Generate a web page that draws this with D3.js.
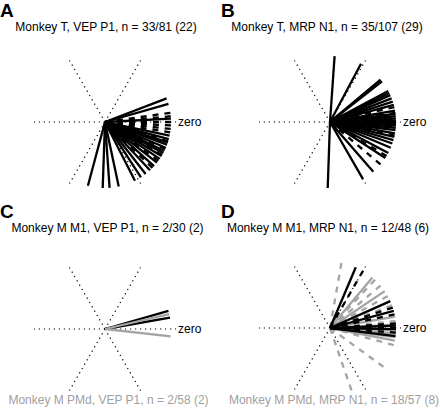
<!DOCTYPE html>
<html><head><meta charset="utf-8">
<script src="https://cdn.jsdelivr.net/npm/d3@7"></script>
<style>body{margin:0;background:#fff}svg{display:block;font-family:"Liberation Sans",Arial,sans-serif}</style>
</head><body><svg id="c" width="440" height="412"></svg>
<script>
// Angles in degrees (0 = "zero", counter-clockwise positive)
const letters = ["A", "B", "C", "D"];
const titles = [
  "Monkey T, VEP P1, n = 33/81 (22)",
  "Monkey T, MRP N1, n = 35/107 (29)",
  "Monkey M M1, VEP P1, n = 2/30 (2)",
  "Monkey M M1, MRP N1, n = 12/48 (6)"
];
const grayTitles = [null, null, "Monkey M PMd, VEP P1, n = 2/58 (2)", "Monkey M PMd, MRP N1, n = 18/57 (8)"];
const spokes = [0, 60, 120, 180, 240, 300];

const aSolid = [21, 16, 3, -12, -15, -18, -20, -23, -26, -28, -31, -34, -38, -42, -47, -52, -57, -63, -78, -86, -92, -105];
const aDashed = [8, 5, 0, -3, -6, -9, -17, -24, -30, -36, -44];
const bSolid = [86, 62, 40, 38, 28, 26, 24, 21, 18, 15, 10, 7, 5, 3, 1, -1, -3, -5, -7, -10, -13, -16, -19, -23, -28, -33, -49, -60, -92];
const bDashed = [13, 8, -2, -12, -31, -40];
const cBlackSolid = [16, 10];
const cBlackDashed = [];
const cGraySolid = [13, -6.5];
const cGrayDashed = [];
const dBlackSolid = [67, 24, 15, 2, -1, -7];
const dBlackDashed = [60, 18, 12, 4, 0, -4];
const dGraySolid = [50, 34, 10, 3, -2, -5, -8, -11];
const dGrayDashed = [80, 47, 40, 29, 20, 6, -4, -15, -36, -71];

const BLACK = "#000", GRAY = "#a4a4a4";
const panels = [
  {cx: 105, cy: 122, lx: 0, ly: 17, ty: 31, tx: 106, sets: [[aSolid, BLACK, false], [aDashed, BLACK, true]]},
  {cx: 330, cy: 122, lx: 221, ly: 17, ty: 31, tx: 327, sets: [[bSolid, BLACK, false], [bDashed, BLACK, true]]},
  {cx: 105, cy: 329, lx: 0, ly: 218, ty: 232, tx: 107.5, by: 404, bx: 108.5,
   sets: [[cBlackSolid, BLACK, false], [cBlackDashed, BLACK, true], [cGraySolid, GRAY, false], [cGrayDashed, GRAY, true]]},
  {cx: 330, cy: 328, lx: 221, ly: 218, ty: 232, tx: 328, by: 404, bx: 334,
   sets: [[dGraySolid, GRAY, false], [dGrayDashed, GRAY, true], [dBlackSolid, BLACK, false], [dBlackDashed, BLACK, true]]}
];

const svg = d3.select("#c");
const ang = d3.scaleLinear().domain([0, 360]).range([0, 2 * Math.PI]);
const rSpoke = d3.scaleLinear().domain([0, 1]).range([0, 71]);
const rLine = d3.scaleLinear().domain([0, 1]).range([0, 66]);

panels.forEach((p, i) => {
  svg.append("text").attr("x", p.lx).attr("y", p.ly).attr("font-size", 19).attr("font-weight", "bold").text(letters[i]);
  svg.append("text").attr("x", p.tx).attr("y", p.ty).attr("font-size", 12).attr("text-anchor", "middle").text(titles[i]);
  if (grayTitles[i]) svg.append("text").attr("x", p.bx).attr("y", p.by).attr("font-size", 12)
     .attr("text-anchor", "middle").attr("fill", "#a0a0a0").text(grayTitles[i]);
  const g = svg.append("g").attr("transform", `translate(${p.cx},${p.cy})`);
  g.selectAll("line.spoke").data(spokes).join("line").attr("class", "spoke")
    .attr("x1", 0).attr("y1", 0)
    .attr("x2", d => rSpoke(1) * Math.cos(ang(d)))
    .attr("y2", d => -rSpoke(1) * Math.sin(ang(d)))
    .attr("stroke", "#000").attr("stroke-width", 1.2).attr("stroke-dasharray", "1.2,3.8");
  g.append("text").attr("x", 73).attr("y", 4).attr("font-size", 12).text("zero");
  p.sets.forEach(([arr, col, dashed]) => {
    g.selectAll(null).data(arr).join("line")
      .attr("x1", 0).attr("y1", 0)
      .attr("x2", d => rLine(1) * Math.cos(ang(d)))
      .attr("y2", d => -rLine(1) * Math.sin(ang(d)))
      .attr("stroke", col).attr("stroke-width", 2.3)
      .attr("stroke-dasharray", dashed ? "6,6" : null);
  });
});
</script></body></html>
